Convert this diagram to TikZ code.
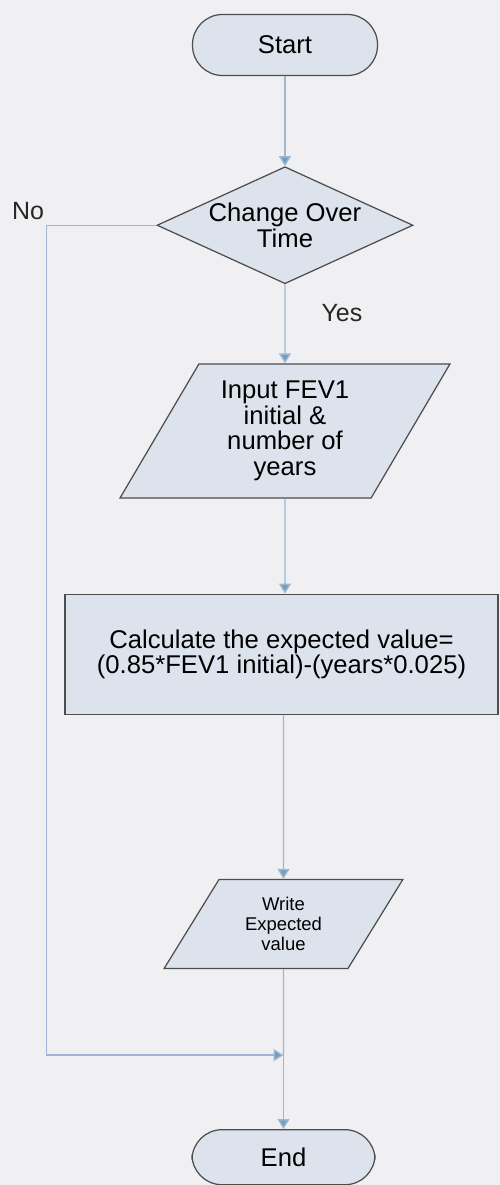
\documentclass[tikz,border=0pt]{standalone}
\usepackage{fontspec}
\setmainfont{Liberation Sans}
\usetikzlibrary{arrows.meta,positioning,shapes.geometric}

\definecolor{paper}{HTML}{F0F0F2}
\definecolor{shapefill}{HTML}{DCE3EC}
\definecolor{shapeedge}{HTML}{4D4D4D}
\definecolor{flowline}{HTML}{9DB7D2}
\definecolor{tipfill}{HTML}{6F9FC2}

\begin{document}
\begin{tikzpicture}[
    base/.style={draw=shapeedge, line width=0.7pt, fill=shapefill,
                 align=center, font=\fontsize{14.6}{14.5}\selectfont},
    term/.style={base, rectangle, rounded corners=6mm,
                 minimum width=3.7cm, minimum height=1.22cm},
    decide/.style={base, diamond, aspect=2.2, inner sep=-3pt,
                   minimum width=5.12cm, minimum height=2.34cm},
    io/.style={base, trapezium, trapezium left angle=60,
               trapezium right angle=120, trapezium stretches=true},
    proc/.style={base, rectangle, minimum width=8.66cm, minimum height=2.4cm},
    arr/.style={-{Triangle[length=2mm, width=2.4mm, fill=tipfill]},
                draw=flowline, line width=0.8pt},
    line/.style={draw=flowline, line width=0.8pt},
    lbl/.style={font=\fontsize{14.2}{14.5}\selectfont, text=black!85}
]
    \fill[paper] (0,0) rectangle (10,-23.7);
    \useasboundingbox (0,0) rectangle (10,-23.7);

    \node[term] (start) at (5.7,-0.9) {Start};
    \node[decide, below=18mm of start] (change) {Change Over\\Time};
    \node[io, below=15.8mm of change, minimum width=6.6cm,
          minimum height=2.68cm] (input) {Input FEV1\\initial \&\\number of\\years};
    \node[proc, below=19mm of input, xshift=-0.07cm] (calc)
        {Calculate the expected value=\\(0.85*FEV1 initial)-(years*0.025)};
    \node[io, below=32.8mm of calc, xshift=0.04cm, minimum width=4.78cm,
          minimum height=1.78cm, font=\fontsize{10.5}{11.4}\selectfont] (write)
        {Write\\Expected\\value};
    \node[term, below=32mm of write, minimum width=3.66cm,
          minimum height=1.1cm] (end) {End};

    \coordinate[left=22mm of change.west] (nocorner);
    \coordinate[below=17.2mm of write.south] (merge);

    \draw[arr] (start) -- (change);
    \draw[arr] (change) -- node[lbl, pos=0.36, right=6mm] {Yes} (input);
    \draw[arr] (input) -- (input |- calc.north);
    \draw[arr] (write |- calc.south) -- (write);
    \draw[line] (write) -- (merge);
    \draw[arr] (merge) -- (end);
    \draw[arr] (change.west) -- (nocorner)
        node[lbl, above left, inner sep=1pt, yshift=2pt] {No} |- (merge);
\end{tikzpicture}
\end{document}
